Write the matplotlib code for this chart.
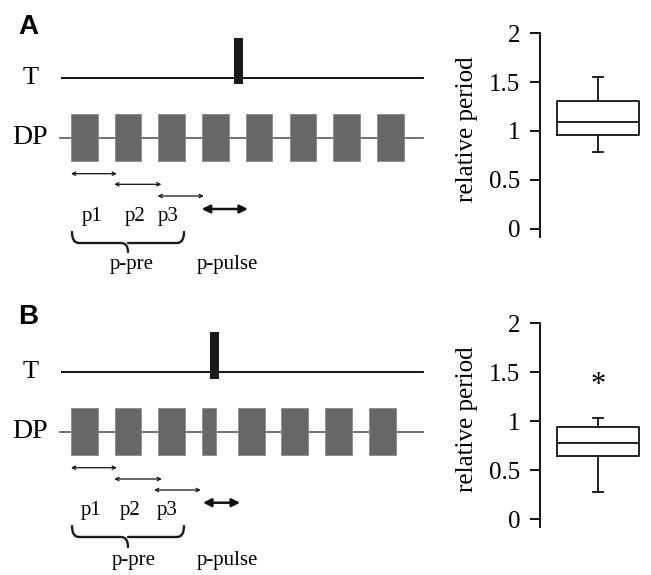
import matplotlib.pyplot as plt
from matplotlib.path import Path
from matplotlib.patches import PathPatch, Rectangle

plt.rcParams['font.family'] = ['Liberation Serif', 'DejaVu Serif']

# burst onsets / durations (in cycles of the control period)
onsets_a = [0, 1.0, 2.0, 3.0, 4.0, 5.0, 6.0, 7.0]
durs_a = [0.61, 0.61, 0.61, 0.61, 0.61, 0.61, 0.61, 0.61]
onsets_b = [0, 1.0, 2.0, 2.99, 3.82, 4.81, 5.81, 6.82]
durs_b = [0.61, 0.61, 0.61, 0.32, 0.61, 0.61, 0.61, 0.61]
stim_a = 3.73
stim_b = 3.18
# period arrows (start, end)
arrows_a = [(0.0, 1.05), (0.99, 2.07), (1.98, 3.04)]
pulse_a = (2.99, 4.05)
arrows_b = [(0.0, 1.05), (0.99, 2.08), (1.9, 2.97)]
pulse_b = (3.02, 3.87)
period_labels = ['p1', 'p2', 'p3']

# relative period box stats
stats_a = dict(med=1.092, q1=0.956, q3=1.307, whislo=0.785, whishi=1.553)
stats_b = dict(med=0.776, q1=0.646, q3=0.942, whislo=0.282, whishi=1.037)
yticks = [0, 0.5, 1, 1.5, 2]
ytick_labels = ['0', '0.5', '1', '1.5', '2']

fig = plt.figure(figsize=(6.51, 5.75), dpi=100)

PX = 43.7  # pixels per cycle in the schematic
X0 = 71


def cx(px):
    return (px - X0) / PX


dax = fig.add_axes([0, 0, 440 / 651, 1])
dax.set_xlim(cx(0), cx(440))
dax.set_ylim(575, 0)
dax.axis('off')


def brace(ax, x0, x1, xm, ytop, ymid, ytip):
    r = 3.5 / PX
    verts = [(x0, ytop), (x0, ymid), (x0 + 2 * r, ymid),
             (xm - 2 * r, ymid), (xm, ymid), (xm, ytip),
             (xm, ymid), (xm + 2 * r, ymid),
             (x1 - 2 * r, ymid), (x1, ymid), (x1, ytop)]
    codes = [Path.MOVETO, Path.CURVE3, Path.CURVE3,
             Path.LINETO, Path.CURVE3, Path.CURVE3,
             Path.MOVETO, Path.LINETO,
             Path.LINETO, Path.CURVE3, Path.CURVE3]
    ax.add_patch(PathPatch(Path(verts, codes), fill=False, lw=1.7,
                           edgecolor='#1a1a1a', capstyle='round'))


def schematic(ax, dy, letter, onsets, durs, stim, arrows, pulse, arrow_y,
              label_x, label_y, t_y, dp_y, stim_top, stim_bot, brace_y):
    ax.text(cx(28), dy + 27, letter, family='Liberation Sans', weight='bold',
            fontsize=20, ha='center', va='center')
    ax.text(cx(31), t_y, 'T', fontsize=19, ha='center', va='center')
    ax.text(cx(30), dp_y, 'DP', fontsize=20, ha='center', va='center')
    ax.plot([cx(62), cx(423)], [t_y, t_y], color='#111111', lw=1.4)
    ax.add_patch(Rectangle((stim, stim_top), 0.2, stim_bot - stim_top,
                           facecolor='#1a1a1a', edgecolor='none', zorder=3))
    ax.plot([cx(60), cx(423)], [dp_y, dp_y], color='#666666', lw=1.3,
            zorder=1)
    for on, d in zip(onsets, durs):
        ax.add_patch(Rectangle((on, dp_y - 24), d, 47, facecolor='#676767',
                               edgecolor='#8a8a8a', lw=0.6, zorder=2))
    for (s, e), y in zip(arrows, arrow_y[:3]):
        ax.annotate('', xy=(e, y), xytext=(s, y),
                    arrowprops=dict(arrowstyle='<->', lw=0.9, color='#111111',
                                    shrinkA=0, shrinkB=0,
                                    mutation_scale=6))
    ax.annotate('', xy=(pulse[1], arrow_y[3]), xytext=(pulse[0], arrow_y[3]),
                arrowprops=dict(arrowstyle='<|-|>', lw=1.8, color='#111111',
                                shrinkA=0, shrinkB=0, mutation_scale=12))
    for lab, x in zip(period_labels, label_x[:3]):
        ax.text(x, label_y[0], lab, fontsize=15, ha='center', va='center')
    brace(ax, cx(72), cx(184), cx(128), *brace_y)
    ax.text(label_x[3], label_y[1], 'p-pre', fontsize=15, ha='center',
            va='center')
    ax.text(label_x[4], label_y[1], 'p-pulse', fontsize=15, ha='center',
            va='center')


schematic(dax, 0, 'A', onsets_a, durs_a, stim_a, arrows_a, pulse_a,
          [173.7, 184.3, 196, 209], [0.49, 1.46, 2.22, 1.4, 3.57], [216, 264],
          78, 138, 38, 84, (232, 243, 252))
schematic(dax, 290, 'B', onsets_b, durs_b, stim_b, arrows_b, pulse_b,
          [467.7, 479, 490, 502.7], [0.46, 1.35, 2.21, 1.44, 3.57], [510, 560],
          371.7, 432, 332, 379, (526, 537, 547))


def boxpanel(rect, stats, star=None):
    ax = fig.add_axes(rect)
    ax.bxp([stats], positions=[0.523], widths=[0.734], capwidths=[0.084],
           showfliers=False, patch_artist=False,
           boxprops=dict(lw=1.3, color='#111111'),
           medianprops=dict(lw=1.3, color='#111111'),
           whiskerprops=dict(lw=1.3, color='#111111'),
           capprops=dict(lw=1.3, color='#111111'))
    ax.set_xlim(0, 1)
    ax.set_ylim(-0.082, 2)
    ax.set_yticks(yticks)
    ax.set_yticklabels(ytick_labels)
    ax.set_xticks([])
    for s in ['top', 'right', 'bottom']:
        ax.spines[s].set_visible(False)
    ax.spines['left'].set_linewidth(1.3)
    ax.spines['left'].set_bounds(-0.082, 2)
    ax.tick_params(axis='y', direction='out', length=7, width=1.3,
                   labelsize=18, pad=7)
    ax.set_ylabel('relative period', fontsize=18)
    ax.yaxis.set_label_coords(-0.56, 0.53)
    ax.patch.set_alpha(0)
    if star is not None:
        ax.text(0.523, star, '*', fontsize=22, ha='center', va='center')
    return ax


boxpanel([540 / 651, 0.5884, 111 / 651, 0.3537], stats_a)
boxpanel([540 / 651, 0.083, 111 / 651, 0.3548], stats_b, star=1.36)

fig.savefig('out.png', dpi=100)
